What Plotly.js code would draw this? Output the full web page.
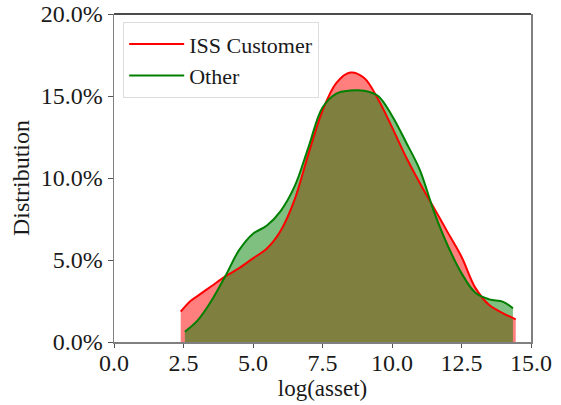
<!DOCTYPE html>
<html>
<head>
<meta charset="utf-8">
<script src="https://cdn.plot.ly/plotly-3.0.1.min.js"></script>
<style>html,body{margin:0;padding:0;background:#fff;}#chart{width:561px;height:405px;}</style>
</head>
<body>
<div id="chart"></div>
<script>
// ISS Customer distribution (KDE) over log(asset)
const issX = [2.4, 2.75, 3.0, 3.5, 4.0, 4.5, 5.0, 5.5, 6.0, 6.5, 7.0, 7.5, 8.0, 8.5, 9.0, 9.5, 10.0, 10.5, 11.0, 11.5, 12.0, 12.5, 13.0, 13.5, 14.0, 14.45];
const issY = [0.0185, 0.025, 0.028, 0.034, 0.040, 0.045, 0.051, 0.057, 0.068, 0.087, 0.115, 0.141, 0.158, 0.1643, 0.161, 0.148, 0.131, 0.113, 0.097, 0.082, 0.067, 0.052, 0.033, 0.0225, 0.0175, 0.0138];
// Other distribution
const otherX = [2.55, 3.0, 3.5, 4.0, 4.5, 5.0, 5.5, 6.0, 6.5, 7.0, 7.5, 8.0, 8.5, 9.0, 9.5, 10.0, 10.5, 11.0, 11.5, 12.0, 12.5, 13.0, 13.5, 14.0, 14.35];
const otherY = [0.0063, 0.013, 0.025, 0.040, 0.056, 0.066, 0.071, 0.080, 0.095, 0.119, 0.143, 0.1515, 0.1533, 0.1532, 0.150, 0.138, 0.122, 0.105, 0.080, 0.059, 0.042, 0.030, 0.026, 0.0245, 0.0205];

const xTicks = [0, 2.5, 5, 7.5, 10, 12.5, 15];
const xTickText = ["0.0", "2.5", "5.0", "7.5", "10.0", "12.5", "15.0"];
const yTicks = [0, 0.05, 0.10, 0.15, 0.20];
const yTickText = ["0.0%", "5.0%", "10.0%", "15.0%", "20.0%"];

const FONT = "Liberation Serif";

const traces = [
  // fills (drawn first, no legend)
  {x: issX, y: issY, type: "scatter", mode: "lines", showlegend: false, hoverinfo: "skip",
   line: {color: "rgba(0,0,0,0)", width: 0, shape: "spline", smoothing: 1},
   fill: "tozeroy", fillcolor: "rgba(255,0,0,0.5)"},
  {x: otherX, y: otherY, type: "scatter", mode: "lines", showlegend: false, hoverinfo: "skip",
   line: {color: "rgba(0,0,0,0)", width: 0, shape: "spline", smoothing: 1},
   fill: "tozeroy", fillcolor: "rgba(0,128,0,0.5)"},
  // lines on top
  {x: issX, y: issY, name: "ISS Customer", type: "scatter", mode: "lines",
   line: {color: "red", width: 2, shape: "spline", smoothing: 1}},
  {x: otherX, y: otherY, name: "Other", type: "scatter", mode: "lines",
   line: {color: "green", width: 2, shape: "spline", smoothing: 1}}
];

const layout = {
  width: 561, height: 405,
  margin: {l: 114, r: 30, t: 14, b: 63},
  paper_bgcolor: "#fff", plot_bgcolor: "#fff",
  font: {family: FONT, size: 24, color: "#1a1a1a"},
  showlegend: true,
  legend: {x: 0.022, y: 0.975, xanchor: "left", yanchor: "top", itemwidth: 55,
           bgcolor: "rgba(255,255,255,0.8)", bordercolor: "#dcdcdc", borderwidth: 1,
           font: {family: FONT, size: 22, color: "#1a1a1a"}},
  xaxis: {range: [0, 15], tickvals: xTicks, ticktext: xTickText,
          showgrid: false, zeroline: false, showline: true, linecolor: "#808080", linewidth: 1.5,
          ticks: "outside", ticklen: 4, tickcolor: "#555", tickwidth: 1,
          tickfont: {family: FONT, size: 24}, ticklabelstandoff: -5,
          title: {text: "log(asset)", font: {family: FONT, size: 23}, standoff: 0}},
  yaxis: {range: [0, 0.2], tickvals: yTicks, ticktext: yTickText,
          showgrid: false, zeroline: false, showline: true, mirror: true, linecolor: "#808080", linewidth: 1.5,
          ticks: "outside", ticklen: 5, tickcolor: "#555", tickwidth: 1,
          tickfont: {family: FONT, size: 24},
          title: {text: "Distribution", font: {family: FONT, size: 24}, standoff: 4}},
  shapes: [{type: "line", xref: "paper", yref: "paper", x0: 0, x1: 1, y0: 1, y1: 1,
            line: {color: "#111", width: 1.5}}]
};

Plotly.newPlot("chart", traces, layout, {displayModeBar: false, staticPlot: true});
</script>
</body>
</html>
